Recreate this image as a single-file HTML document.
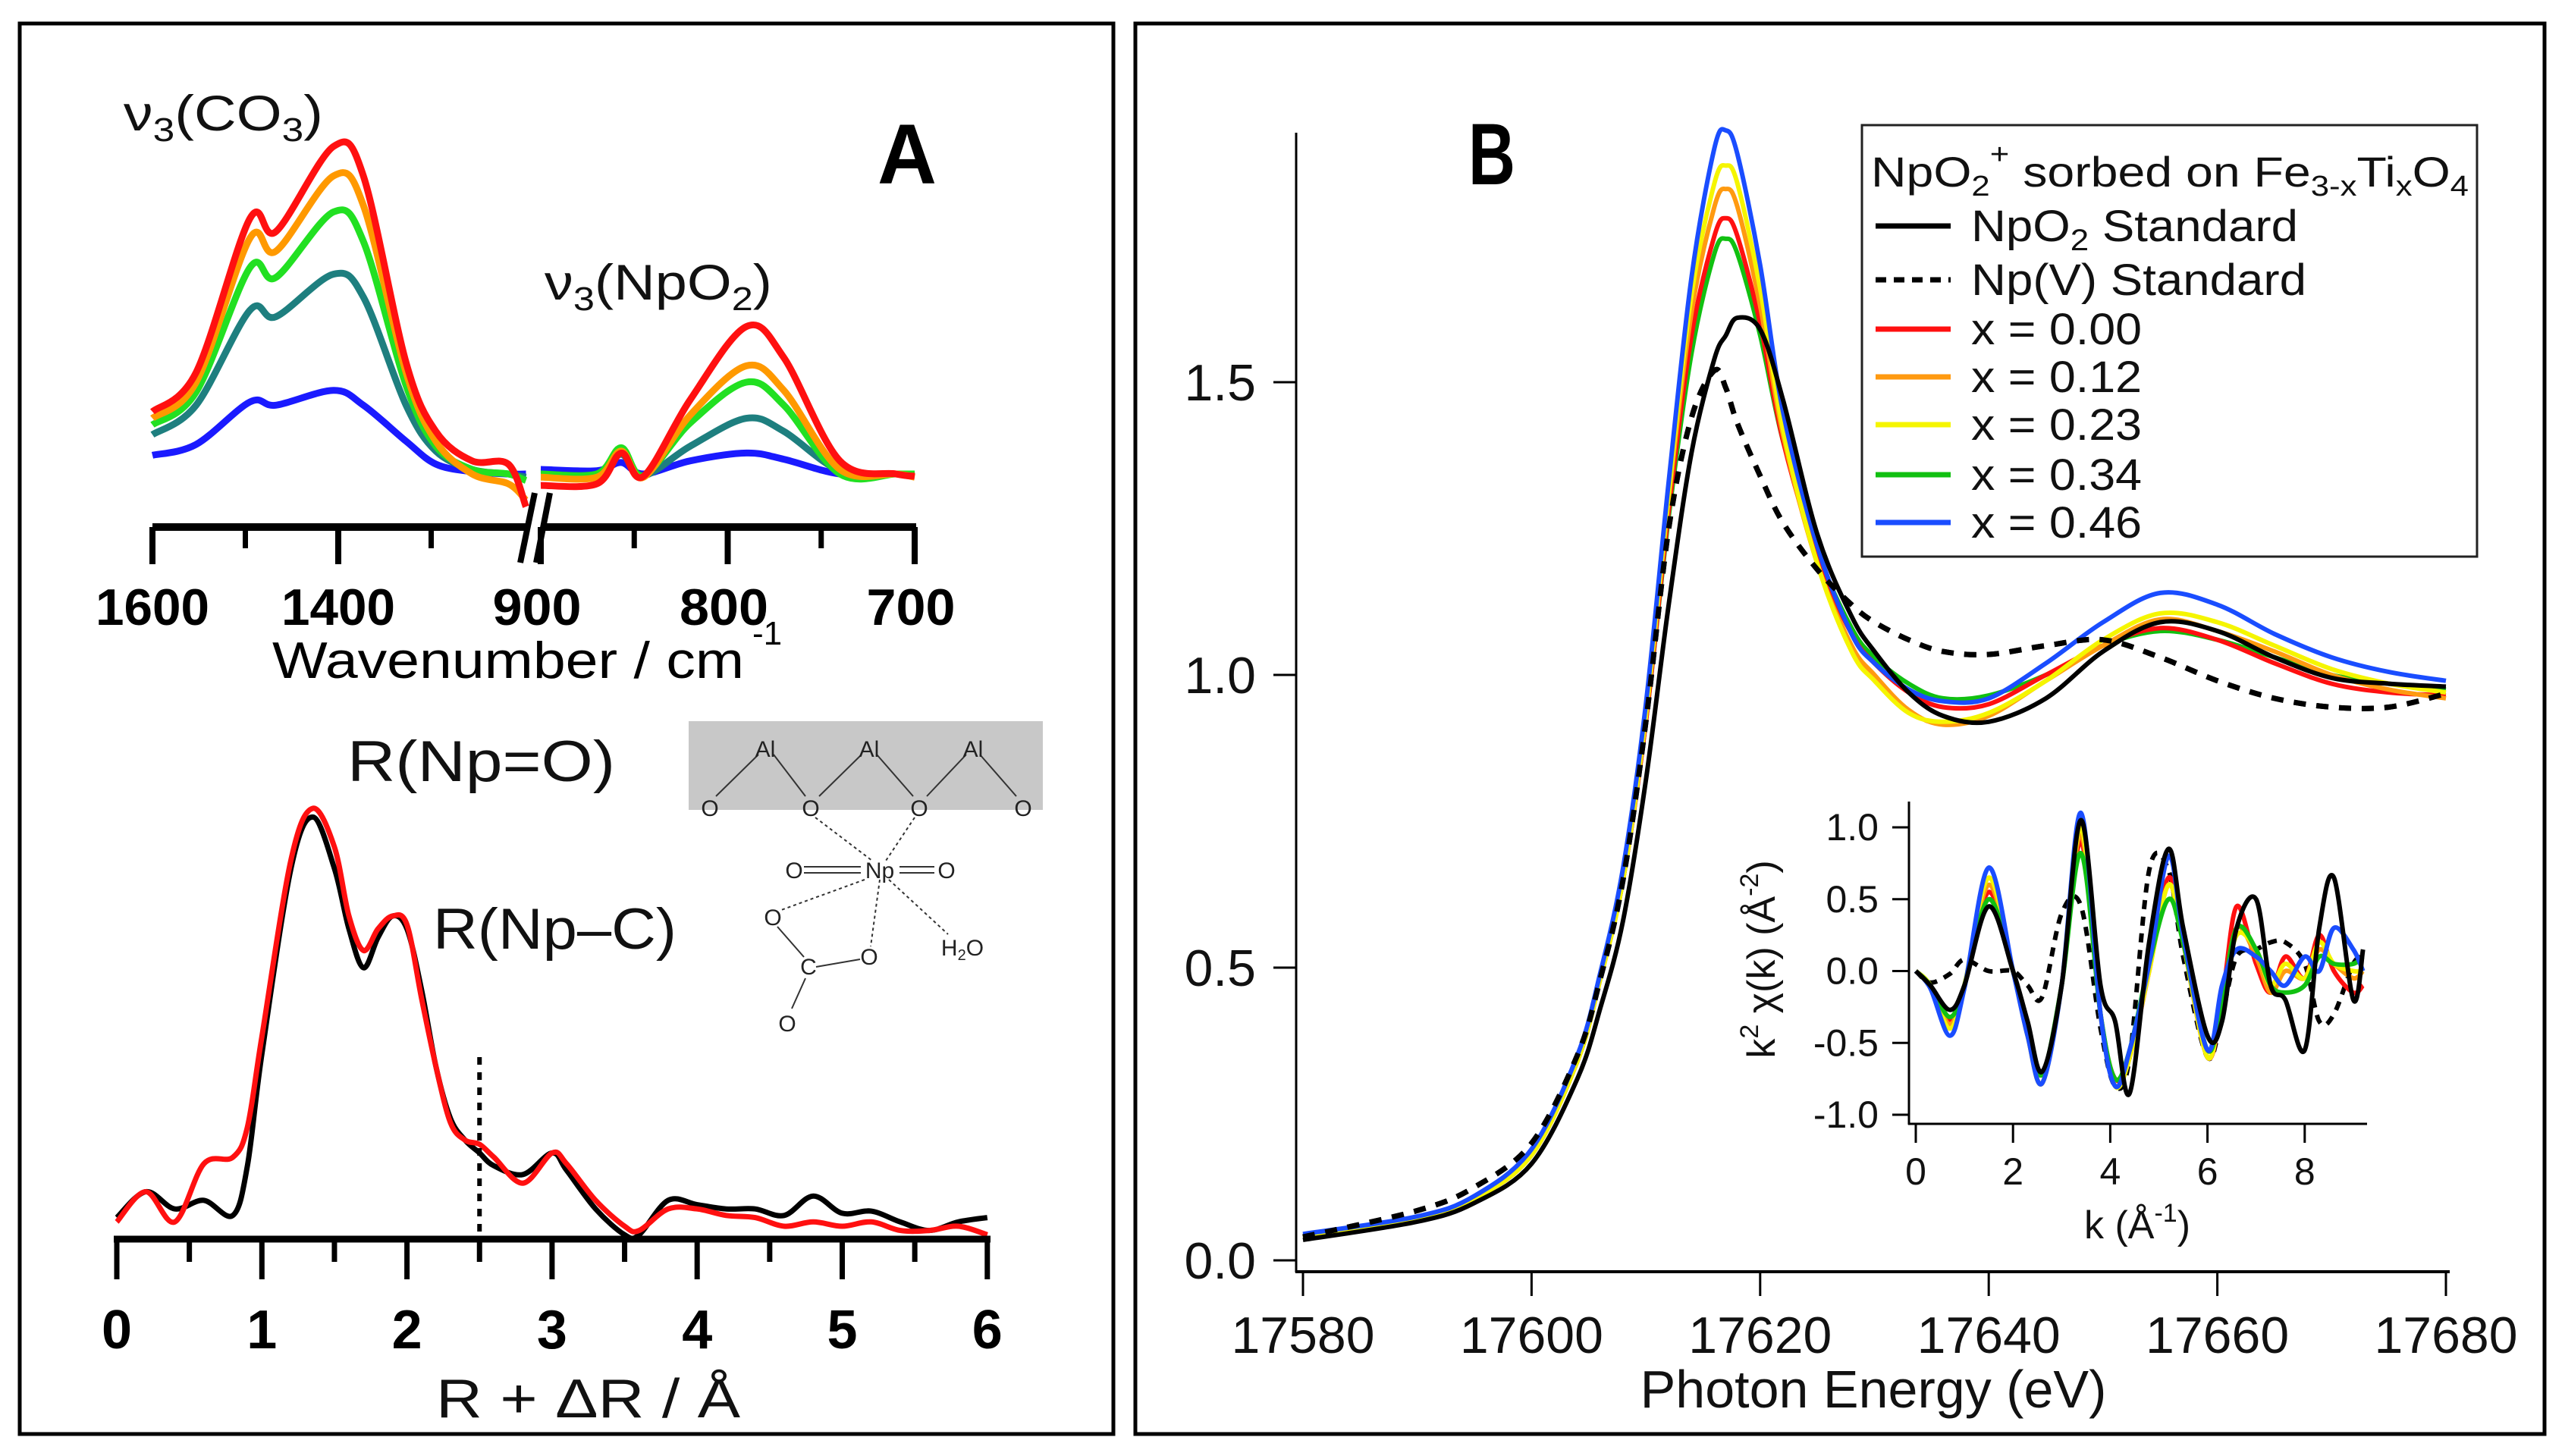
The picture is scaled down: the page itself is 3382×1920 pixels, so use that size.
<!DOCTYPE html>
<html><head><meta charset="utf-8"><style>
html,body{margin:0;padding:0;background:#fff}
svg{display:block}
text{font-family:"Liberation Sans",Arial,sans-serif}
</style></head><body>
<svg id="fig" width="3382" height="1920" viewBox="0 0 3382 1920" xmlns="http://www.w3.org/2000/svg">
<rect width="3382" height="1920" fill="#fff"/>
<rect x="26" y="31" width="1442" height="1860" fill="none" stroke="#000" stroke-width="5"/>
<rect x="1497" y="31" width="1858" height="1860" fill="none" stroke="#000" stroke-width="5"/>
<g id="gA1"></g>
<g id="gA2"></g>
<g id="gMol">
 <rect x="908" y="951" width="467" height="117" fill="#c8c8c8"/>
 <g stroke="#333" stroke-width="2" fill="none">
  <line x1="944" y1="1050" x2="1000" y2="995"/><line x1="1020" y1="995" x2="1062" y2="1050"/>
  <line x1="1080" y1="1050" x2="1136" y2="995"/><line x1="1156" y1="995" x2="1204" y2="1050"/>
  <line x1="1222" y1="1050" x2="1274" y2="995"/><line x1="1292" y1="995" x2="1340" y2="1050"/>
  <g stroke-dasharray="4,4"><line x1="1075" y1="1078" x2="1150" y2="1135"/><line x1="1206" y1="1078" x2="1168" y2="1135"/>
  <line x1="1140" y1="1160" x2="1030" y2="1200"/><line x1="1160" y1="1160" x2="1148" y2="1248"/><line x1="1172" y1="1160" x2="1250" y2="1232"/></g>
  <line x1="1060" y1="1143" x2="1135" y2="1143"/><line x1="1060" y1="1151" x2="1135" y2="1151"/>
  <line x1="1186" y1="1143" x2="1232" y2="1143"/><line x1="1186" y1="1151" x2="1232" y2="1151"/>
  <line x1="1025" y1="1222" x2="1060" y2="1262"/><line x1="1076" y1="1275" x2="1134" y2="1265"/><line x1="1062" y1="1290" x2="1044" y2="1330"/>
 </g>
 <g font-size="30" fill="#222" text-anchor="middle">
  <text x="1009" y="998">Al</text><text x="1146" y="998">Al</text><text x="1283" y="998">Al</text>
  <text x="936" y="1076">O</text><text x="1069" y="1076">O</text><text x="1212" y="1076">O</text><text x="1349" y="1076">O</text>
  <text x="1047" y="1158">O</text><text x="1160" y="1158">Np</text><text x="1248" y="1158">O</text>
  <text x="1019" y="1220">O</text><text x="1146" y="1272">O</text><text x="1066" y="1285">C</text><text x="1038" y="1360">O</text>
  <text x="1269" y="1260">H<tspan font-size="20" dy="6">2</tspan><tspan dy="-6">O</tspan></text>
 </g>
</g>
<g id="gB"></g>
<g id="gI"></g>
<g id="gLeg"></g>
</svg>
<script>
// ---------- Panel A top: IR spectra ----------
const irLeftW = [1600,1553,1495,1467,1405,1373,1327,1295,1256,1217,1198];
const irRed_L = [0.19,0.31,0.78,0.74,1.0,0.91,0.34,0.13,0.04,0.03,-0.10];
const irOrange_L = [0.17,0.28,0.72,0.68,0.91,0.82,0.31,0.10,0.0,-0.03,-0.08];
const irGreen_L = [0.15,0.25,0.63,0.60,0.80,0.71,0.27,0.085,0.014,0.0,-0.02];
const irTeal_L = [0.12,0.21,0.50,0.48,0.61,0.54,0.21,0.07,0.014,0.0,-0.01];
const irBlue_L = [0.057,0.09,0.22,0.21,0.255,0.21,0.10,0.03,0.007,0.0,0.0];
const irRightW = [900,870,857,845,820,790,770,740,710,700];
const irRed_R = [-0.035,-0.03,0.064,-0.007,0.227,0.45,0.355,0.04,0.0,-0.007];
const irOrange_R = [-0.01,-0.01,0.07,-0.01,0.18,0.33,0.255,0.014,0.0,-0.01];
const irGreen_R = [0.0,0.0,0.08,-0.005,0.156,0.28,0.21,0.0,0.0,0.0];
const irTeal_R = [0.0,0.0,0.06,-0.005,0.085,0.17,0.13,0.01,0.0,0.0];
const irBlue_R = [0.014,0.01,0.035,0.0,0.04,0.064,0.045,0.0,0.0,0.0];
const irTicksL = [1600,1400];
const irTicksR = [900,800,700];
// ---------- Panel A bottom: FT ----------
const ftR = [0,0.2,0.4,0.6,0.8,0.9,1.0,1.2,1.35,1.5,1.6,1.7,1.8,1.9,2.0,2.1,2.2,2.3,2.4,2.5,2.6,2.8,3.0,3.1,3.3,3.5,3.6,3.8,4.0,4.2,4.4,4.6,4.8,5.0,5.2,5.4,5.6,5.8,6.0];
const ftRed = [0.04,0.11,0.04,0.175,0.19,0.26,0.47,0.88,1.0,0.91,0.75,0.67,0.72,0.75,0.73,0.56,0.40,0.27,0.23,0.22,0.19,0.13,0.20,0.175,0.09,0.03,0.02,0.07,0.07,0.055,0.05,0.03,0.04,0.03,0.04,0.02,0.02,0.03,0.01];
const ftBlack = [0.05,0.11,0.07,0.09,0.055,0.17,0.43,0.86,0.98,0.86,0.72,0.63,0.70,0.75,0.72,0.58,0.40,0.28,0.23,0.20,0.17,0.15,0.20,0.16,0.07,0.01,0.01,0.09,0.08,0.07,0.07,0.055,0.10,0.06,0.065,0.04,0.02,0.04,0.05];
const ftTicks = [0,1,2,3,4,5,6];
// ---------- Panel B main: XANES ----------
const E = [17580,17590,17595,17600,17604,17606,17608,17610,17612,17614,17616,17617,17618,17620,17622,17625,17628,17630,17633,17636,17640,17645,17650,17655,17660,17665,17670,17675,17680];
const muRed = [0.04,0.07,0.105,0.18,0.34,0.48,0.65,0.92,1.28,1.58,1.75,1.78,1.75,1.60,1.40,1.20,1.07,1.02,0.97,0.945,0.95,1.0,1.05,1.08,1.06,1.02,0.985,0.97,0.965];
const muOrange = [0.04,0.07,0.105,0.18,0.34,0.48,0.65,0.93,1.30,1.62,1.80,1.83,1.80,1.63,1.41,1.19,1.05,1.0,0.94,0.915,0.93,0.99,1.05,1.095,1.075,1.04,1.0,0.975,0.96];
const muYellow = [0.04,0.07,0.105,0.18,0.34,0.48,0.65,0.93,1.31,1.65,1.84,1.87,1.84,1.66,1.42,1.19,1.04,0.99,0.935,0.92,0.935,0.99,1.06,1.105,1.09,1.05,1.01,0.985,0.97];
const muGreen = [0.04,0.07,0.105,0.18,0.34,0.48,0.65,0.92,1.27,1.55,1.72,1.745,1.72,1.58,1.40,1.21,1.08,1.03,0.985,0.96,0.965,1.0,1.05,1.075,1.06,1.03,1.0,0.985,0.975];
const muBlue = [0.045,0.075,0.11,0.19,0.35,0.49,0.67,0.95,1.33,1.68,1.90,1.93,1.89,1.70,1.45,1.22,1.07,1.02,0.975,0.955,0.96,1.02,1.09,1.14,1.12,1.07,1.03,1.005,0.99];
const muNpO2 = [0.035,0.066,0.098,0.165,0.31,0.43,0.58,0.82,1.12,1.38,1.54,1.58,1.61,1.59,1.47,1.24,1.10,1.04,0.97,0.93,0.92,0.96,1.04,1.09,1.075,1.03,0.995,0.985,0.98];
const muNpV = [0.04,0.085,0.125,0.2,0.35,0.48,0.65,0.92,1.25,1.44,1.52,1.49,1.43,1.34,1.26,1.18,1.12,1.09,1.06,1.04,1.035,1.05,1.06,1.03,0.99,0.96,0.945,0.945,0.968];
const bXTicks = [17580,17600,17620,17640,17660,17680];
const bYTicks = [0.0,0.5,1.0,1.5];
const bYLabels = ["0.0","0.5","1.0","1.5"];
// ---------- Inset: k2 chi ----------
const kGrid = [0,0.3,0.7,1.0,1.5,2.0,2.3,2.6,3.0,3.4,3.8,4.1,4.4,4.8,5.2,5.5,6.0,6.3,6.6,7.0,7.3,7.6,8.0,8.3,8.6,9.0,9.2];
const chiRed = [0,-0.1,-0.35,-0.1,0.55,0.0,-0.4,-0.72,-0.1,0.9,-0.3,-0.75,-0.6,0.0,0.65,0.2,-0.6,-0.2,0.45,0.05,-0.15,0.1,-0.05,0.25,0.0,-0.15,-0.1];
const chiOrange = [0,-0.1,-0.37,-0.1,0.6,0.0,-0.45,-0.78,-0.1,0.95,-0.3,-0.8,-0.6,0.0,0.6,0.2,-0.55,-0.2,0.3,0.1,-0.15,0.0,-0.05,0.15,0.05,-0.05,0.0];
const chiYellow = [0,-0.1,-0.4,-0.1,0.65,0.0,-0.45,-0.78,-0.1,1.0,-0.3,-0.8,-0.6,0.0,0.6,0.2,-0.6,-0.2,0.25,0.15,-0.1,0.05,-0.05,0.2,0.05,0.0,0.0];
const chiGreen = [0,-0.1,-0.32,-0.1,0.5,0.0,-0.4,-0.72,-0.1,0.82,-0.3,-0.75,-0.55,0.05,0.5,0.2,-0.55,-0.2,0.3,0.15,-0.1,-0.15,-0.1,0.1,0.05,0.05,0.1];
const chiBlue = [0,-0.12,-0.45,-0.12,0.72,0.0,-0.45,-0.78,-0.1,1.1,-0.3,-0.8,-0.55,0.05,0.8,0.25,-0.55,-0.1,0.15,0.1,0.0,-0.1,0.1,0.0,0.3,0.15,0.0];
const chiNpO2 = [0,-0.1,-0.27,-0.1,0.45,0.0,-0.35,-0.7,-0.1,1.05,-0.1,-0.35,-0.85,0.2,0.85,0.3,-0.45,-0.35,0.3,0.5,-0.1,-0.2,-0.55,0.3,0.65,-0.2,0.15];
const chiNpV = [0,-0.08,-0.02,0.08,0.0,0.0,-0.1,-0.18,0.4,0.45,-0.4,-0.8,-0.6,0.7,0.7,0.1,-0.6,-0.3,0.1,0.15,0.2,0.2,0.05,-0.35,-0.3,0.05,0.1];
const inXTicks = [0,2,4,6,8];
const inYTicks = [-1.0,-0.5,0.0,0.5,1.0];
const inYLabels = ["-1.0","-0.5","0.0","0.5","1.0"];
const legendLabels = ["NpO2 Standard","Np(V) Standard","x = 0.00","x = 0.12","x = 0.23","x = 0.34","x = 0.46"];

const NS = "http://www.w3.org/2000/svg";
function mk(parent, tag, attrs, txt){
  const el = document.createElementNS(NS, tag);
  for (const k in attrs) el.setAttribute(k, attrs[k]);
  if (txt !== undefined) el.textContent = txt;
  parent.appendChild(el);
  return el;
}
function smooth(pts){
  let d = "M" + pts[0][0].toFixed(1) + "," + pts[0][1].toFixed(1);
  for (let i = 0; i < pts.length - 1; i++){
    const p0 = pts[Math.max(0,i-1)], p1 = pts[i], p2 = pts[i+1], p3 = pts[Math.min(pts.length-1,i+2)];
    const c1 = [p1[0] + (p2[0]-p0[0])/6, p1[1] + (p2[1]-p0[1])/6];
    const c2 = [p2[0] - (p3[0]-p1[0])/6, p2[1] - (p3[1]-p1[1])/6];
    d += "C" + c1[0].toFixed(1)+","+c1[1].toFixed(1)+" "+c2[0].toFixed(1)+","+c2[1].toFixed(1)+" "+p2[0].toFixed(1)+","+p2[1].toFixed(1);
  }
  return d;
}

// ===== Panel A top =====
const gA1 = document.getElementById('gA1');
const xIrL = w => 201 + (1600 - w) * 1.225;
const xIrR = w => 713 + (900 - w) * 2.465;
const yIr = v => 625 - v * 432;
const irL = [["#1a1aff",irBlue_L,"blue"],["#1e7f7f",irTeal_L,"teal"],["#22e022",irGreen_L,"green"],["#ff9900",irOrange_L,"orange"],["#ff1010",irRed_L,"red"]];
const irR = [irBlue_R,irTeal_R,irGreen_R,irOrange_R,irRed_R];
irL.forEach((s, i) => {
  const p1 = mk(gA1, 'path', {d: smooth(irLeftW.map((w,j)=>[xIrL(w), yIr(s[1][j])])), fill:'none', stroke:s[0], 'stroke-width':9, 'stroke-linejoin':'round'});
  
  
  const p2 = mk(gA1, 'path', {d: smooth(irRightW.map((w,j)=>[xIrR(w), yIr(irR[i][j])])), fill:'none', stroke:s[0], 'stroke-width':9, 'stroke-linejoin':'round'});
  
  
});
mk(gA1,'line',{x1:201,y1:695,x2:695,y2:695,stroke:'#000','stroke-width':10});
mk(gA1,'line',{x1:716,y1:695,x2:1208,y2:695,stroke:'#000','stroke-width':10});
mk(gA1,'line',{x1:705,y1:650,x2:686,y2:742,stroke:'#000','stroke-width':8});
mk(gA1,'line',{x1:725,y1:650,x2:707,y2:742,stroke:'#000','stroke-width':8});
[1500,1300].forEach(w=>mk(gA1,'line',{x1:xIrL(w),y1:695,x2:xIrL(w),y2:723,stroke:'#000','stroke-width':7}));
[850,750].forEach(w=>mk(gA1,'line',{x1:xIrR(w),y1:695,x2:xIrR(w),y2:723,stroke:'#000','stroke-width':7}));
irTicksL.forEach(w=>{
  mk(gA1,'line',{x1:xIrL(w),y1:695,x2:xIrL(w),y2:744,stroke:'#000','stroke-width':8});
  const t = mk(gA1,'text',{x:xIrL(w),y:824,'text-anchor':'middle','font-size':68,'font-weight':'bold',textLength:150,lengthAdjust:'spacingAndGlyphs'}, String(w));
  
  
});
irTicksR.forEach(w=>{
  mk(gA1,'line',{x1:xIrR(w),y1:695,x2:xIrR(w),y2:744,stroke:'#000','stroke-width':8});
  const t = mk(gA1,'text',{x:xIrR(w)-5,y:824,'text-anchor':'middle','font-size':68,'font-weight':'bold',textLength:117,lengthAdjust:'spacingAndGlyphs'}, String(w));
  
  
});
(function(){
  const t = mk(gA1,'text',{x:359,y:894,'font-size':68,textLength:622,lengthAdjust:'spacingAndGlyphs'},'Wavenumber / cm');
   
  mk(gA1,'text',{x:992,y:850,'font-size':44},'-1');
  const a = mk(gA1,'text',{x:163,y:172,'font-size':66,textLength:263,lengthAdjust:'spacingAndGlyphs',fill:'#111'},'');
  a.innerHTML = 'ν<tspan font-size="44" dy="14">3</tspan><tspan dy="-14">(CO</tspan><tspan font-size="44" dy="14">3</tspan><tspan dy="-14">)</tspan>';
   
  const b = mk(gA1,'text',{x:718,y:395,'font-size':66,textLength:300,lengthAdjust:'spacingAndGlyphs',fill:'#111'},'');
  b.innerHTML = 'ν<tspan font-size="44" dy="14">3</tspan><tspan dy="-14">(NpO</tspan><tspan font-size="44" dy="14">2</tspan><tspan dy="-14">)</tspan>';
   
  const A = mk(gA1,'text',{x:1196,y:242,'text-anchor':'middle','font-size':112,'font-weight':'bold',textLength:78,lengthAdjust:'spacingAndGlyphs'},'A');
   
})();

// ===== Panel A bottom =====
const gA2 = document.getElementById('gA2');
const xFt = r => 154 + r * 191.3;
const yFt = v => 1634 - v * 568;
[[ftBlack,'#000','ft-black'],[ftRed,'#ff1010','ft-red']].forEach(s=>{
  const p = mk(gA2,'path',{d:smooth(ftR.map((r,j)=>[xFt(r), yFt(s[0][j])])),fill:'none',stroke:s[1],'stroke-width':7,'stroke-linejoin':'round'});
  
  
});
mk(gA2,'line',{x1:150,y1:1634,x2:1306,y2:1634,stroke:'#000','stroke-width':9});
mk(gA2,'line',{x1:xFt(2.5),y1:1394,x2:xFt(2.5),y2:1634,stroke:'#000','stroke-width':6,'stroke-dasharray':'10,10'});
for (let r = 0.5; r < 6; r += 1) mk(gA2,'line',{x1:xFt(r),y1:1634,x2:xFt(r),y2:1664,stroke:'#000','stroke-width':7});
ftTicks.forEach(r=>{
  mk(gA2,'line',{x1:xFt(r),y1:1634,x2:xFt(r),y2:1687,stroke:'#000','stroke-width':7});
  const t = mk(gA2,'text',{x:xFt(r),y:1778,'text-anchor':'middle','font-size':72,'font-weight':'bold',textLength:40,lengthAdjust:'spacingAndGlyphs'},String(r));
  
  
});
(function(){
  const t = mk(gA2,'text',{x:575,y:1869,'font-size':72,textLength:401,lengthAdjust:'spacingAndGlyphs',fill:'#111'},'R + ΔR / Å');
   
  const a = mk(gA2,'text',{x:458,y:1030,'font-size':76,textLength:353,lengthAdjust:'spacingAndGlyphs',fill:'#111'},'R(Np=O)');
   
  const b = mk(gA2,'text',{x:571,y:1251,'font-size':76,textLength:321,lengthAdjust:'spacingAndGlyphs',fill:'#111'},'R(Np–C)');
   
})();

// ===== Panel B main =====
const gB = document.getElementById('gB');
const xB = e => 1718 + (e - 17580) * 15.07;
const yB = v => 1662 - v * 772;
mk(gB,'line',{x1:1709,y1:175,x2:1709,y2:1678,stroke:'#000','stroke-width':3});
mk(gB,'line',{x1:1708,y1:1677,x2:3230,y2:1677,stroke:'#000','stroke-width':4});
bYTicks.forEach((v,i)=>{
  mk(gB,'line',{x1:1679,y1:yB(v),x2:1709,y2:yB(v),stroke:'#000','stroke-width':3});
  const t = mk(gB,'text',{x:1656,y:yB(v)+24,'text-anchor':'end','font-size':68,fill:'#111'},bYLabels[i]);
  
  
});
bXTicks.forEach(e=>{
  mk(gB,'line',{x1:xB(e),y1:1677,x2:xB(e),y2:1709,stroke:'#000','stroke-width':3});
  const t = mk(gB,'text',{x:xB(e),y:1784,'text-anchor':'middle','font-size':68,fill:'#111'},String(e));
  
  
});
(function(){
  const t = mk(gB,'text',{x:2470,y:1856,'text-anchor':'middle','font-size':70,fill:'#111'},'Photon Energy (eV)');
   
  const B = mk(gB,'text',{x:1967,y:243,'text-anchor':'middle','font-size':115,'font-weight':'bold',textLength:62,lengthAdjust:'spacingAndGlyphs'},'B');
   
})();
const bSeries = [[muNpV,'#000','xanes-npv',true],[muGreen,'#11c011','xanes-x034'],[muRed,'#ff1010','xanes-x000'],[muOrange,'#ff9a10','xanes-x012'],[muYellow,'#f5f500','xanes-x023'],[muBlue,'#1a4dff','xanes-x046'],[muNpO2,'#000','xanes-npo2']];
bSeries.forEach(s=>{
  const a = {d:smooth(E.map((e,j)=>[xB(e), yB(s[0][j])])),fill:'none',stroke:s[1],'stroke-width':s[3]?7:6,'stroke-linejoin':'round'};
  if (s[3]) a['stroke-dasharray'] = '16,14';
  const p = mk(gB,'path',a);
  
  
});
mk(gB,'path',{d:smooth(E.map((e,j)=>[xB(e), yB(muNpV[j])])),fill:'none',stroke:'#000','stroke-width':7,'stroke-dasharray':'16,14'});

// ===== Inset =====
const gI = document.getElementById('gI');
const xI = k => 2526 + k * 64.1;
const yI = v => 1280.5 - v * 189.5;
mk(gI,'line',{x1:2517,y1:1057,x2:2517,y2:1483,stroke:'#000','stroke-width':3});
mk(gI,'line',{x1:2516,y1:1482,x2:3121,y2:1482,stroke:'#000','stroke-width':3});
inYTicks.forEach((v,i)=>{
  mk(gI,'line',{x1:2495,y1:yI(v),x2:2517,y2:yI(v),stroke:'#000','stroke-width':3});
  const t = mk(gI,'text',{x:2477,y:yI(v)+17,'text-anchor':'end','font-size':50,fill:'#111'},inYLabels[i]);
  
  
});
inXTicks.forEach(k=>{
  mk(gI,'line',{x1:xI(k),y1:1482,x2:xI(k),y2:1507,stroke:'#000','stroke-width':3});
  const t = mk(gI,'text',{x:xI(k),y:1562,'text-anchor':'middle','font-size':50,fill:'#111'},String(k));
  
  
});
(function(){
  const t = mk(gI,'text',{x:2748,y:1633,'font-size':52,fill:'#111'},'');
  t.innerHTML = 'k (Å<tspan font-size="34" dy="-22">-1</tspan><tspan dy="22">)</tspan>';
   
  const y = mk(gI,'text',{x:0,y:0,'font-size':52,fill:'#111',transform:'translate(2340,1265) rotate(-90)','text-anchor':'middle'},'');
  y.innerHTML = 'k<tspan font-size="34" dy="-22">2</tspan><tspan dy="22"> χ(k) (Å</tspan><tspan font-size="34" dy="-22">-2</tspan><tspan dy="22">)</tspan>';
   
})();
const iSeries = [[chiNpV,'#000','chi-npv',true],[chiRed,'#ff1010','chi-x000'],[chiOrange,'#ff9a10','chi-x012'],[chiYellow,'#f5f500','chi-x023'],[chiGreen,'#11c011','chi-x034'],[chiBlue,'#1a4dff','chi-x046'],[chiNpO2,'#000','chi-npo2']];
iSeries.forEach(s=>{
  const a = {d:smooth(kGrid.map((k,j)=>[xI(k), yI(s[0][j])])),fill:'none',stroke:s[1],'stroke-width':6,'stroke-linejoin':'round'};
  if (s[3]) a['stroke-dasharray'] = '12,10';
  const p = mk(gI,'path',a);
  
  
});

// ===== Legend =====
const gL = document.getElementById('gLeg');
mk(gL,'rect',{x:2455,y:165,width:811,height:569,fill:'#fff',stroke:'#222','stroke-width':3});
(function(){
  const t = mk(gL,'text',{x:2467,y:246,'font-size':56,fill:'#111',textLength:788,lengthAdjust:'spacingAndGlyphs'},'');
  t.innerHTML = 'NpO<tspan font-size="38" dy="12">2</tspan><tspan font-size="38" dy="-42">+</tspan><tspan dy="30"> sorbed on Fe</tspan><tspan font-size="38" dy="12">3-x</tspan><tspan dy="-12">Ti</tspan><tspan font-size="38" dy="12">x</tspan><tspan dy="-12">O</tspan><tspan font-size="38" dy="12">4</tspan>';
   
})();
const legColors = ['#000','#000','#ff1010','#ff9a10','#f5f500','#11c011','#1a4dff'];
const legBase = [318,389,454,517,580,646,709];
const legWidths = [431,442,225,225,225,225,225];
legendLabels.forEach((lab,i)=>{
  const a = {x1:2473,y1:legBase[i]-20,x2:2572,y2:legBase[i]-20,stroke:legColors[i],'stroke-width':7};
  if (i===1) a['stroke-dasharray'] = '14,10';
  const ln = mk(gL,'line',a);
  
  
  const t = mk(gL,'text',{x:2599,y:legBase[i],'font-size':58,fill:'#111',textLength:legWidths[i],lengthAdjust:'spacingAndGlyphs'},'');
  if (i===0) t.innerHTML = 'NpO<tspan font-size="40" dy="12">2</tspan><tspan dy="-12"> Standard</tspan>';
  else t.textContent = lab;
  
  
});
</script>
</body></html>
